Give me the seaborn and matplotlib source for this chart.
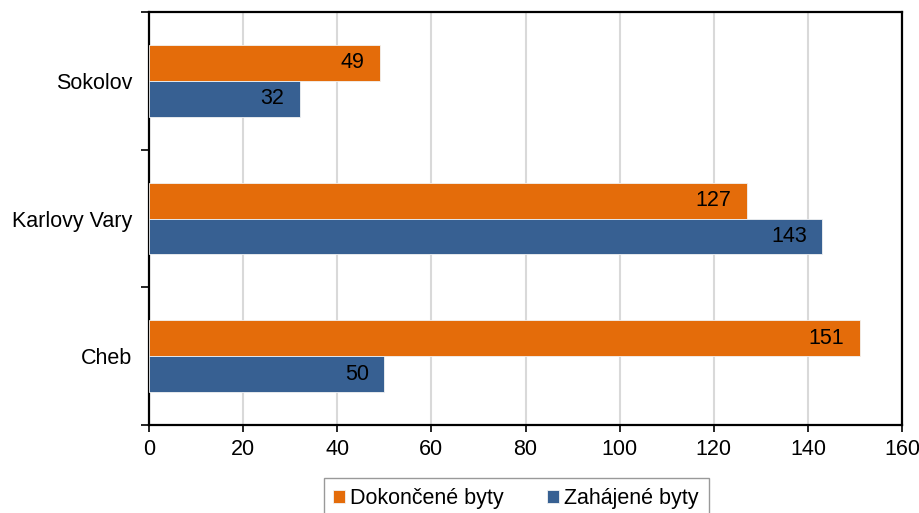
import matplotlib
matplotlib.use('Agg')
import matplotlib.pyplot as plt
import seaborn as sns
import pandas as pd
from matplotlib.ticker import FixedLocator

# data
districts = ['Sokolov', 'Karlovy Vary', 'Cheb']
series = ['Dokončené byty', 'Zahájené byty']
dokoncene = [49, 127, 151]
zahajene = [32, 143, 50]
x_ticks = [0, 20, 40, 60, 80, 100, 120, 140, 160]

colors = {'Dokončené byty': '#E46C0A', 'Zahájené byty': '#376092'}

df = pd.DataFrame({
    'okres': districts * 2,
    'serie': [series[0]] * 3 + [series[1]] * 3,
    'byty': dokoncene + zahajene,
})

sns.set_style('white')
plt.rcParams['font.family'] = ['Liberation Sans', 'DejaVu Sans']
plt.rcParams['text.color'] = 'black'
plt.rcParams['xtick.color'] = 'black'
plt.rcParams['ytick.color'] = 'black'

fs = 15.5

fig, ax = plt.subplots(figsize=(9.19, 5.13), dpi=100)
fig.subplots_adjust(left=149 / 919, right=902 / 919, top=1 - 12 / 513, bottom=1 - 425 / 513)

sns.barplot(data=df, y='okres', x='byty', hue='serie', order=districts,
            hue_order=series, palette=colors, saturation=1, width=0.52, orient='h',
            edgecolor='#F2F2F2', linewidth=0.6, ax=ax, zorder=3)

for cont in ax.containers:
    labels = ax.bar_label(cont, fmt='%d', label_type='edge', padding=0, fontsize=fs, color='black')
    for t in labels:
        t.set_horizontalalignment('right')
        t.xyann = (-11, 0)

ax.set_xlim(0, 160)
ax.set_ylim(2.5, -0.5)
ax.set_xticks(x_ticks)
ax.tick_params(axis='x', labelsize=fs, length=5, width=1.2, direction='out', pad=5, bottom=True)
ax.tick_params(axis='y', which='major', length=0, labelsize=fs, pad=12)
ax.yaxis.set_minor_locator(FixedLocator([-0.5, 0.5, 1.5, 2.5]))
ax.tick_params(axis='y', which='minor', length=6, width=1.2, left=True)
ax.set_xlabel('')
ax.set_ylabel('')
ax.xaxis.grid(True, color='#D9D9D9', linewidth=1.5, zorder=0)
ax.set_axisbelow(True)

for sp in ax.spines.values():
    sp.set_visible(True)
    sp.set_color('black')
    sp.set_linewidth(1.6)

handles, labels = ax.get_legend_handles_labels()
ax.get_legend().remove()
fig.legend(handles, labels, loc='upper center', bbox_to_anchor=(516 / 919, 1 - 478 / 513),
           ncol=2, fontsize=fs, frameon=True, fancybox=False, edgecolor='#808080',
           handlelength=0.55, handleheight=0.55, handletextpad=0.25, columnspacing=2.0,
           borderpad=0.45, borderaxespad=0)

fig.savefig('out.png', dpi=100)
